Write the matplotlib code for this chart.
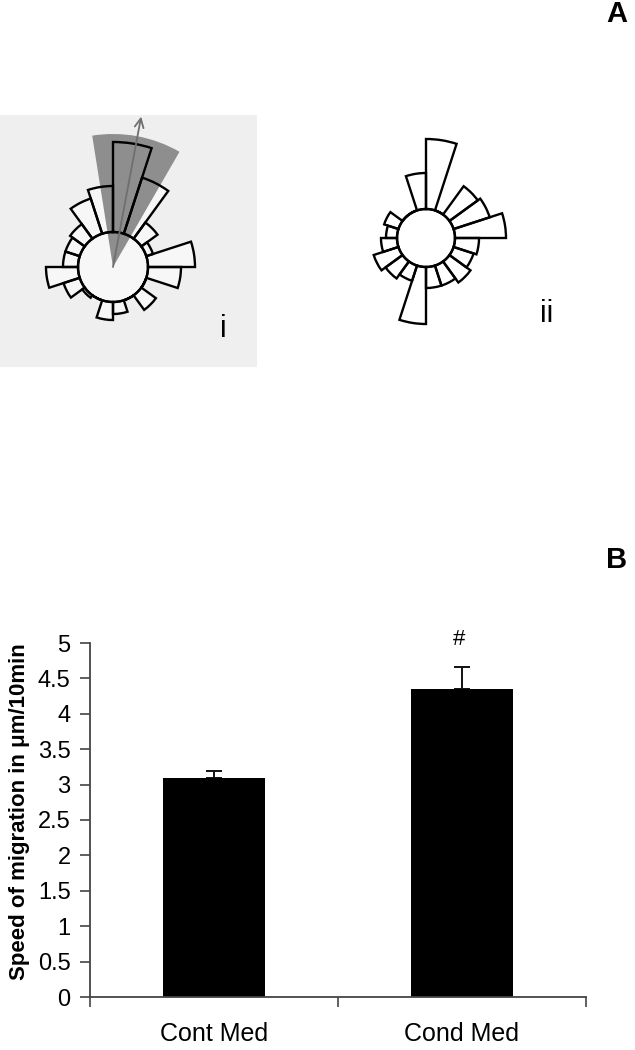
import numpy as np
import matplotlib
matplotlib.use("Agg")
import matplotlib.pyplot as plt
from matplotlib import font_manager

W, H = 635, 1050

# ---------------- data ----------------
bin_deg = 18
# rose diagram bin lengths (clockwise from north, 18-degree bins)
rose_i = [90, 59, 20, 7, 47, 33, 0, 18, 0, 12, 18, 0, 3, 17, 32, 15, 15, 18, 37, 46]
rose_ii = [70, 0, 35, 38, 51, 24, 21, 26, 21, 21, 57, 16, 21, 26, 16, 11, 15, 0, 0, 36]
wedge_i = (-9, 30)        # confidence sector, degrees
wedge_len_i = 133
arrow_dir_i = 10.6         # mean direction, degrees
arrow_len_i = 153

categories = ["Cont Med", "Cond Med"]
speed = [3.1, 4.35]
speed_err = [0.09, 0.31]
yticks = [0, 0.5, 1, 1.5, 2, 2.5, 3, 3.5, 4, 4.5, 5]
ytick_labels = ["0", "0.5", "1", "1.5", "2", "2.5", "3", "3.5", "4", "4.5", "5"]
sig_mark = "#"

plt.rcParams["font.family"] = ["Liberation Sans", "DejaVu Sans"]
installed = {f.name for f in font_manager.fontManager.ttflist}
NARROW = ["Liberation Sans Narrow"] if "Liberation Sans Narrow" in installed else ["Liberation Sans"]
has_narrow = "Liberation Sans Narrow" in installed

fig = plt.figure(figsize=(W / 100, H / 100), dpi=100)


def fx(x):
    return x / W


def fy(y):
    return 1 - y / H


def polar_axes(cx, cy, R):
    ax = fig.add_axes([fx(cx - R), fy(cy + R), 2 * R / W, 2 * R / H],
                      projection="polar", zorder=2)
    ax.set_theta_zero_location("N")
    ax.set_theta_direction(-1)
    return ax


def rose(ax, counts, inner, fill, R):
    theta = np.deg2rad(np.arange(len(counts)) * bin_deg + bin_deg / 2)
    width = np.deg2rad(bin_deg)
    ax.bar(theta, counts, width=width, bottom=inner, color=fill,
           edgecolor="none", zorder=1)
    ax.bar(0, inner, width=2 * np.pi, bottom=0, color=fill,
           edgecolor="none", zorder=1)
    ax.bar(theta, counts, width=width, bottom=inner, facecolor="none",
           edgecolor="black", linewidth=1.7, zorder=3)
    t = np.linspace(0, 2 * np.pi, 361)
    ax.plot(t, np.full_like(t, inner), color="black", lw=1.7, zorder=3)
    ax.set_axis_off()
    ax.set_ylim(0, R)


# ---- panel A(i) ----
bg = fig.add_axes([0, fy(367), 257 / W, (367 - 115) / H], zorder=0)
bg.set_facecolor("#efefef")
bg.set_xticks([])
bg.set_yticks([])
for s in bg.spines.values():
    s.set_visible(False)

R1 = 165
ax1 = polar_axes(113, 267, R1)
rose(ax1, rose_i, 35, "#f7f7f7", R1)
w0, w1 = np.deg2rad(wedge_i[0]), np.deg2rad(wedge_i[1])
ax1.bar((w0 + w1) / 2, wedge_len_i, width=w1 - w0, bottom=0,
        color="#8e8e8e", edgecolor="none", zorder=2)
ax1.annotate("", xy=(np.deg2rad(arrow_dir_i), arrow_len_i),
             xytext=(np.deg2rad(arrow_dir_i), 0),
             arrowprops=dict(arrowstyle="->", color="#6f6f6f", lw=1.3,
                             mutation_scale=16, shrinkA=0, shrinkB=0),
             annotation_clip=False, zorder=4)
ax1.set_ylim(0, R1)
fig.text(fx(223), fy(329), "i", fontsize=22, ha="center", va="center")

# ---- panel A(ii) ----
R2 = 120
ax2 = polar_axes(426, 238, R2)
rose(ax2, rose_ii, 29, "white", R2)
fig.text(fx(547), fy(314), "ii", fontsize=22, ha="center", va="center")

# panel letters
fig.text(fx(617), fy(14), "A", fontsize=21 if not has_narrow else 23,
         fontweight="bold", ha="center", va="center", family=NARROW)
fig.text(fx(617), fy(560), "B", fontsize=21 if not has_narrow else 23,
         fontweight="bold", ha="center", va="center", family=NARROW)

# ---- panel B ----
ax = fig.add_axes([fx(90), fy(997), 496 / W, (997 - 643) / H])
x = np.arange(len(categories))
ax.errorbar(x, speed, yerr=[np.zeros(len(speed)), speed_err], fmt="none",
            ecolor="#111111", elinewidth=1.4, capsize=5.5, capthick=1.4, zorder=1)
ax.bar(x, speed, width=0.41, color="black", zorder=2)
ax.annotate(sig_mark, xy=(x[1], speed[1] + speed_err[1]), xytext=(-2, 20),
            textcoords="offset points", ha="center", va="center", fontsize=16)
ax.set_xlim(-0.5, 1.5)
ax.set_ylim(0, 5)
ax.set_yticks(yticks)
ax.set_yticklabels(ytick_labels, fontsize=17)
ax.set_xticks(x)
ax.set_xticklabels(categories, fontsize=18, family=NARROW)
ax.set_xticks([-0.5, 0.5, 1.5], minor=True)
ax.tick_params(axis="x", which="major", length=0, pad=18)
ax.tick_params(axis="x", which="minor", length=7, width=1.2, color="#444444")
ax.tick_params(axis="y", length=7, width=1.2, color="#444444", pad=7)
for s in ["top", "right"]:
    ax.spines[s].set_visible(False)
for s in ["left", "bottom"]:
    ax.spines[s].set_color("#444444")
    ax.spines[s].set_linewidth(1.3)
fig.text(fx(20), fy(812), "Speed of migration in \u03bcm/10min", rotation=90,
         fontsize=16, fontweight="bold", ha="center", va="center")

fig.savefig("out.png", dpi=100)
